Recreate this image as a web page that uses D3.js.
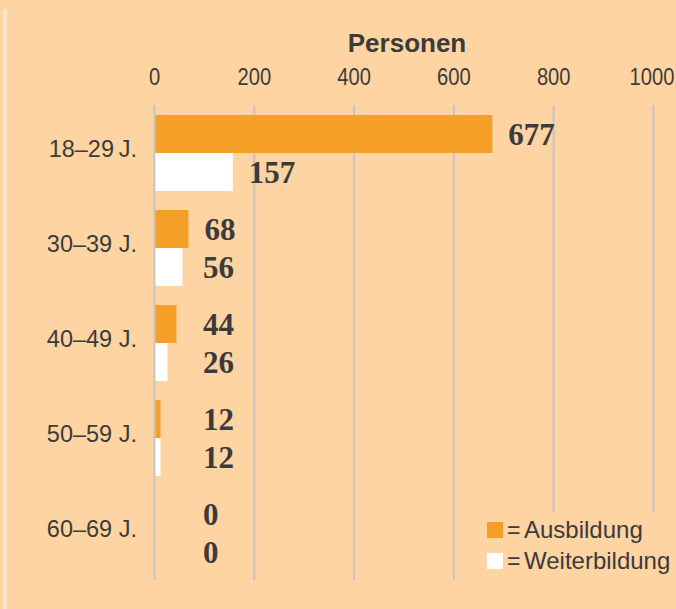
<!DOCTYPE html>
<html>
<head>
<meta charset="utf-8">
<script src="https://cdn.jsdelivr.net/npm/d3@7"></script>
<style>
  body { margin: 0; background: #fdd4a2; }
  svg { display: block; }
</style>
</head>
<body>
<svg id="chart"></svg>
<script>
const categories = ["18\u201329\u2009J.", "30\u201339 J.", "40\u201349 J.", "50\u201359 J.", "60\u201369 J."];
const ausbildung = [677, 68, 44, 12, 0];
const weiterbildung = [157, 56, 26, 12, 0];
const ticks = [0, 200, 400, 600, 800, 1000];
const seriesNames = ["Ausbildung", "Weiterbildung"];
const colors = ["#f59e28", "#ffffff"];

const width = 676, height = 609;
const textColor = "#3b3b3b";
const sans = "Liberation Sans, Arial, sans-serif";

const svg = d3.select("#chart").attr("width", width).attr("height", height);

svg.append("rect").attr("width", width).attr("height", height).attr("fill", "#fdd4a2");
// pale stripe on the left edge
svg.append("rect").attr("x", 3).attr("y", 9).attr("width", 4).attr("height", height - 9)
  .attr("fill", "#fde6c8");

const x = d3.scaleLinear().domain([0, 1000]).range([154.5, 653.5]);
const y = d3.scaleBand().domain(categories).range([115, 571]).paddingInner(0.2).paddingOuter(0);
const sub = d3.scaleBand().domain(seriesNames).range([0, y.bandwidth()]);

// grid
svg.append("g").selectAll("line").data(ticks).join("line")
  .attr("x1", d => x(d)).attr("x2", d => x(d))
  .attr("y1", 105).attr("y2", d => d >= 800 ? 512 : 580)
  .attr("stroke", "#c4c4c4").attr("stroke-width", 2);

// tick labels, squeezed horizontally like a condensed face
svg.append("g").selectAll("text").data(ticks).join("text")
  .attr("transform", d => `translate(${Math.min(x(d), 652)},85) scale(0.84,1)`)
  .attr("text-anchor", "middle")
  .attr("font-family", sans)
  .attr("font-size", 24).attr("fill", textColor)
  .text(d => d);

svg.append("text").attr("x", 407).attr("y", 52)
  .attr("text-anchor", "middle")
  .attr("font-family", sans)
  .attr("font-weight", "bold").attr("font-size", 26).attr("fill", textColor)
  .text("Personen");

const rows = categories.map((c, i) => ({ cat: c, vals: [ausbildung[i], weiterbildung[i]] }));

const grp = svg.append("g").selectAll("g").data(rows).join("g")
  .attr("transform", d => `translate(0,${y(d.cat)})`);

grp.append("text")
  .attr("x", 137).attr("y", y.bandwidth() / 2 + 4)
  .attr("text-anchor", "end")
  .attr("font-family", sans)
  .attr("font-size", 23.5).attr("fill", textColor)
  .text(d => d.cat);

grp.selectAll("rect").data(d => d.vals.map((v, j) => ({ v, s: seriesNames[j], j }))).join("rect")
  .attr("x", x(0) + 1).attr("y", d => sub(d.s))
  .attr("width", d => Math.max(0, x(d.v) - x(0) - 1))
  .attr("height", sub.bandwidth())
  .attr("fill", d => colors[d.j]);

grp.selectAll("text.val").data(d => d.vals.map((v, j) => ({ v, s: seriesNames[j] }))).join("text")
  .attr("class", "val")
  .attr("x", d => Math.max(x(d.v) + 16, 203))
  .attr("y", d => sub(d.s) + sub.bandwidth() / 2 + 11)
  .attr("font-family", "Liberation Serif, serif")
  .attr("font-weight", "bold").attr("font-size", 31).attr("fill", textColor)
  .text(d => d.v);

// legend
const leg = svg.append("g").selectAll("g").data(seriesNames).join("g")
  .attr("transform", (d, i) => `translate(487,${522 + i * 31})`);
leg.append("rect").attr("width", 16).attr("height", 16).attr("fill", (d, i) => colors[i]);
leg.append("text").attr("x", 20).attr("y", 16)
  .attr("font-family", sans)
  .attr("font-size", 23).attr("fill", textColor)
  .text("=");
leg.append("text").attr("x", 37).attr("y", 16)
  .attr("font-family", sans)
  .attr("font-size", 24).attr("fill", textColor)
  .text(d => d);
</script>
</body>
</html>
